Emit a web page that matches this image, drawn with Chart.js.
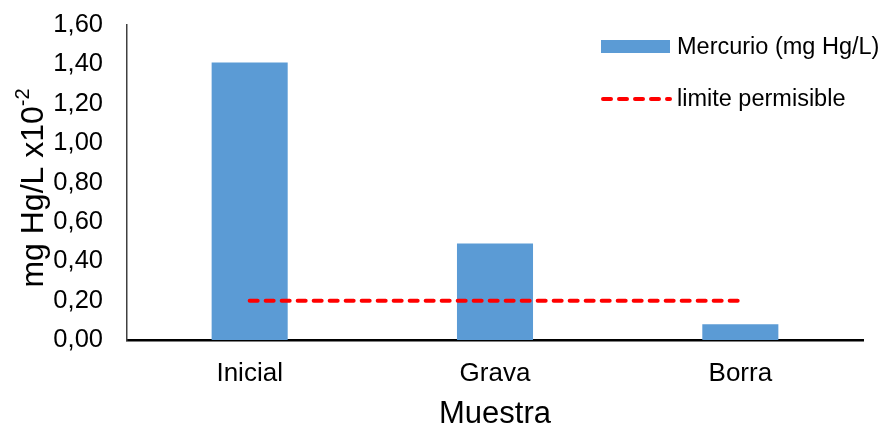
<!DOCTYPE html>
<html>
<head>
<meta charset="utf-8">
<style>
    html, body { margin: 0; padding: 0; background: #fff; }
    #wrap { width: 885px; height: 425px; position: relative; }
</style>
<script src="https://cdn.jsdelivr.net/npm/chart.js@4.4.1/dist/chart.umd.min.js"></script>
</head>
<body>
<div id="wrap"><canvas id="myChart"></canvas></div>
<script>
// Muestras y concentraciones de mercurio
const categories = ['Inicial', 'Grava', 'Borra'];
const mercurio = [1.41, 0.49, 0.08];
const limite = [0.20, 0.20, 0.20];
const yTicks = [0, 0.2, 0.4, 0.6, 0.8, 1.0, 1.2, 1.4, 1.6];

const FONT = "'Liberation Sans', Arial, sans-serif";

// Y axis title with the x10^-2 superscript
const yTitlePlugin = {
    id: 'yTitle',
    afterDraw(chart) {
        const ctx = chart.ctx;
        const main = 'mg Hg/L x10';
        const sup = '-2';
        ctx.save();
        ctx.font = `32px ${FONT}`;
        const wMain = ctx.measureText(main).width;
        ctx.font = `20px ${FONT}`;
        const wSup = ctx.measureText(sup).width;
        const total = wMain + wSup;
        ctx.translate(43, 188);
        ctx.rotate(-Math.PI / 2);
        ctx.fillStyle = '#000';
        ctx.textBaseline = 'alphabetic';
        ctx.textAlign = 'left';
        ctx.font = `32px ${FONT}`;
        ctx.fillText(main, -total / 2, 0);
        ctx.font = `20px ${FONT}`;
        ctx.fillText(sup, -total / 2 + wMain, -14);
        ctx.restore();
    }
};

// Legend in the upper right, one entry per line
const legendPlugin = {
    id: 'sideLegend',
    afterDraw(chart) {
        const ctx = chart.ctx;
        const rows = [
            { ds: chart.data.datasets[0], y: 46.5 },
            { ds: chart.data.datasets[1], y: 99 }
        ];
        ctx.save();
        rows.forEach(row => {
            if (row.ds.type === 'line') {
                ctx.strokeStyle = row.ds.borderColor;
                ctx.lineWidth = row.ds.borderWidth;
                ctx.lineCap = 'round';
                ctx.setLineDash(row.ds.borderDash);
                ctx.beginPath();
                ctx.moveTo(603, row.y);
                ctx.lineTo(670, row.y);
                ctx.stroke();
                ctx.setLineDash([]);
            } else {
                ctx.fillStyle = row.ds.backgroundColor;
                ctx.fillRect(601, row.y - 6.5, 69, 13);
            }
            ctx.fillStyle = '#000';
            ctx.font = `23.5px ${FONT}`;
            ctx.textBaseline = 'middle';
            ctx.textAlign = 'left';
            ctx.fillText(row.ds.label, 677, row.y + 1);
        });
        ctx.restore();
    }
};

const ctx = document.getElementById('myChart').getContext('2d');
new Chart(ctx, {
    data: {
        labels: categories,
        datasets: [{
            type: 'bar',
            label: 'Mercurio (mg Hg/L)',
            data: mercurio,
            backgroundColor: '#5B9BD5',
            categoryPercentage: 1,
            barPercentage: 0.31,
            order: 1
        }, {
            type: 'line',
            label: 'limite permisible',
            data: limite,
            borderColor: '#FF0000',
            borderWidth: 4,
            borderDash: [8, 8],
            borderCapStyle: 'round',
            pointRadius: 0,
            fill: false,
            order: 0
        }]
    },
    options: {
        responsive: true,
        maintainAspectRatio: false,
        animation: false,
        layout: { padding: { top: 25, right: 22, left: 0, bottom: 0 } },
        plugins: {
            legend: { display: false },
            tooltip: { enabled: false }
        },
        scales: {
            x: {
                grid: { display: false, drawTicks: false },
                border: { display: true, color: '#000', width: 2.5 },
                ticks: {
                    color: '#000',
                    font: { family: FONT, size: 26 },
                    padding: 18
                },
                title: {
                    display: true,
                    text: 'Muestra',
                    color: '#000',
                    font: { family: FONT, size: 31 },
                    padding: { top: 0, bottom: -8 }
                },
                afterFit(scale) { scale.height = 85; }
            },
            y: {
                min: 0,
                max: 1.6,
                afterBuildTicks(scale) {
                    scale.ticks = yTicks.map(v => ({ value: v }));
                },
                grid: { display: false, drawTicks: false },
                border: { display: true, color: '#404040', width: 1.5 },
                ticks: {
                    color: '#000',
                    font: { family: FONT, size: 25.5 },
                    padding: 24,
                    callback: v => v.toFixed(2).replace('.', ',')
                },
                afterFit(scale) {
                    scale.width = 127;
                    // the tick padding should not push the plot top down
                    scale.paddingTop = 0;
                    scale.paddingBottom = 0;
                }
            }
        }
    },
    plugins: [yTitlePlugin, legendPlugin]
});
</script>
</body>
</html>
